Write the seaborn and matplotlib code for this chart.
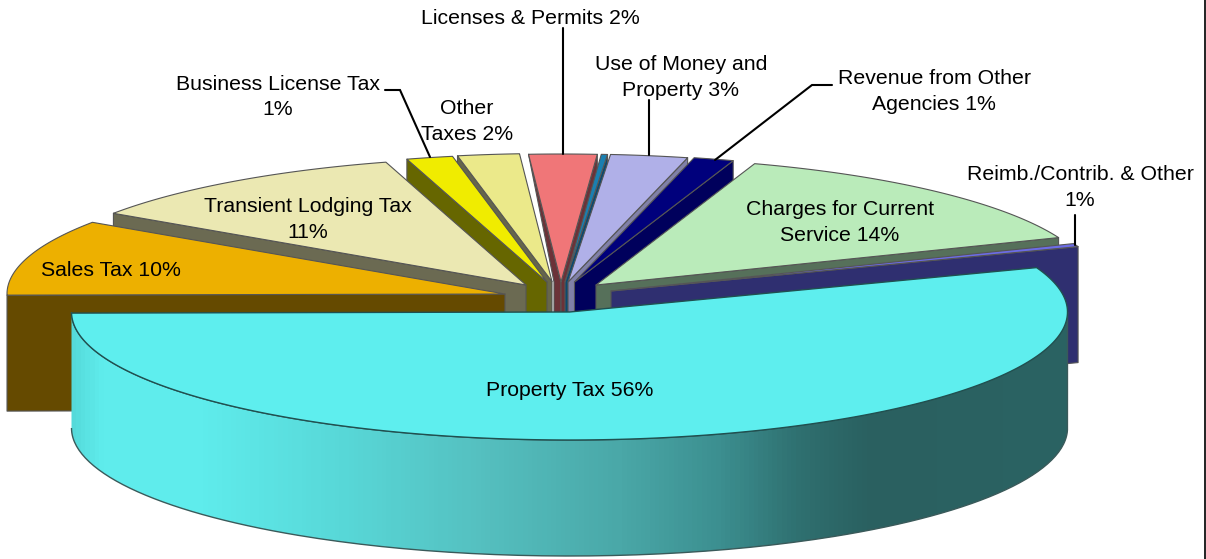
import numpy as np
import pandas as pd
import seaborn as sns
import matplotlib
matplotlib.use("Agg")
import matplotlib.pyplot as plt
from matplotlib.path import Path
from matplotlib.patches import PathPatch
from matplotlib.colors import LinearSegmentedColormap

# ---- data (shares, in percent of the full circle)
names = ["Sales Tax", "Transient Lodging Tax", "Business License Tax", "Other Taxes",
         "Licenses & Permits", "Unlabelled", "Use of Money and Property",
         "Revenue from Other Agencies", "Charges for Current Service",
         "Reimb./Contrib. & Other", "Property Tax"]
shares = [9.6, 11.0, 1.5, 2.0, 2.2, 0.2, 2.5, 1.3, 13.8, 0.4, 55.5]
top_colors = ["#EDB000", "#EBE8B2", "#F0EC00", "#EBE98A", "#F07678", "#1A7FB0",
              "#B0B0E8", "#00007C", "#BAEBBA", "#6C6CE6", "#5EEEEE"]
wall_colors = ["#654A00", "#6B6A52", "#666600", "#66664A", "#6B3238", "#0B4A70",
               "#8080A8", "#00005C", "#56705A", "#2F2F70", "#2B6363"]
apex_x = [505, 526, 547, 552, 561, 565, 568, 574.5, 596, 611, 569.5]
apex_y = [294, 285, 282, 281.5, 282, 282, 282, 282, 285, 291, 312]
wall_taper = [None, None, None, None, 7, None, None, None, None, None, None]

labels = [("Sales Tax 10%", 111, 270), ("Transient Lodging Tax\n11%", 308, 219.5),
          ("Business License Tax\n1%", 278, 97), ("Other\nTaxes 2%", 467, 121.5),
          ("Licenses & Permits 2%", 530, 18), ("Use of Money and\nProperty 3%", 681, 77.5),
          ("Revenue from Other\nAgencies 1%", 934, 91.5), ("Charges for Current\nService 14%", 840, 222.5),
          ("Reimb./Contrib. & Other\n1%", 1080, 187.5), ("Property Tax 56%", 570, 390)]
leaders = [([385, 400, 430], [90, 90, 157]), ([563, 563], [28, 154]), ([649, 649], [100, 155]),
           ([832, 812, 715], [85, 85, 160]), ([1075, 1075], [215, 245])]

gradient_stops = [(70, "#55DADA"), (100, "#5FECEC"), (200, "#5FECEC"), (340, "#58D8D8"),
                  (480, "#55C0C0"), (620, "#4AA8A8"), (720, "#3C8F90"), (800, "#2F7070"),
                  (870, "#2A6060"), (1072, "#2B6363")]

RX, RY, DEPTH = 498, 128, 116
START = 180.5

sns.set_theme(style="white")
plt.rcParams["font.family"] = ["Liberation Sans", "DejaVu Sans"]
palette = sns.color_palette(top_colors)

df = pd.DataFrame({"name": names, "share": shares, "ax": apex_x, "ay": apex_y,
                   "top": top_colors, "wall": wall_colors, "taper": wall_taper})
df["a1"] = START - df["share"].cumsum().shift(fill_value=0) * 3.6
df["a2"] = START - df["share"].cumsum() * 3.6
df["mid"] = (df["a1"] + df["a2"]) / 2
df["order"] = (df["mid"] - 90).abs()

fig = plt.figure(figsize=(12.06, 5.59), dpi=100, facecolor="white")
ax = fig.add_axes([0, 0, 1, 1])
ax.set_xlim(0, 1206)
ax.set_ylim(559, 0)
ax.axis("off")

EDGE = "#555555"


def arc(row, a1, a2, dy=0.0, n=200):
    t = np.radians(np.linspace(a1, a2, n))
    return row.ax + RX * np.cos(t), row.ay - RY * np.sin(t) + dy


def poly(xs, ys, fc, ec=EDGE, z=1, lw=0.8):
    return ax.fill(xs, ys, facecolor=fc, edgecolor=ec, linewidth=lw, zorder=z, joinstyle="round")[0]


z = 1
for row in df.sort_values("order").itertuples():
    is_big = row.name == "Property Tax"
    x1, y1 = arc(row, row.a1, row.a1, n=1)
    x2, y2 = arc(row, row.a2, row.a2, n=1)
    if not is_big:
        if row.a1 > 90:
            if pd.notna(row.taper):
                w = float(row.taper)
                poly([row.ax, x1[0], row.ax - w, row.ax - w, row.ax],
                     [row.ay, y1[0], row.ay, row.ay + DEPTH, row.ay + DEPTH], row.wall, z=z)
            else:
                poly([row.ax, x1[0], x1[0], row.ax],
                     [row.ay, y1[0], y1[0] + DEPTH, row.ay + DEPTH], row.wall, z=z)
        if row.a2 < 90:
            poly([row.ax, x2[0], x2[0], row.ax],
                 [row.ay, y2[0], y2[0] + DEPTH, row.ay + DEPTH], row.wall, z=z)
    z += 1
    if is_big:
        xb, yb = arc(row, 180, 360)
        xs = np.r_[xb, xb[::-1]]
        ys = np.r_[yb, yb[::-1] + DEPTH]
        path = Path(np.c_[xs, ys])
        clip = PathPatch(path, facecolor="none", edgecolor="#3A5A5A", linewidth=1.0, zorder=z + 1)
        ax.add_patch(clip)
        span = 1206.0
        cmap = LinearSegmentedColormap.from_list(
            "side", [(0.0, gradient_stops[0][1])]
            + [(p / span, c) for p, c in gradient_stops]
            + [(1.0, gradient_stops[-1][1])])
        im = ax.imshow(np.linspace(0, 1, 1206)[None, :], cmap=cmap, aspect="auto",
                       extent=(0, 1206, 559, 0), zorder=z, vmin=0, vmax=1)
        im.set_clip_path(clip)
        z += 2
    xa, ya = arc(row, row.a1, row.a2)
    poly(np.r_[row.ax, xa], np.r_[row.ay, ya], row.top,
         ec="#1F5050" if is_big else EDGE, z=z, lw=1.0 if is_big else 0.8)
    z += 1

ax.set_xlim(0, 1206)
ax.set_ylim(559, 0)

for xs, ys in leaders:
    ax.plot(xs, ys, color="black", lw=1.5, zorder=50, solid_joinstyle="miter")
for text, x, y in labels:
    ax.text(x, y, text, ha="center", va="center", fontsize=15.3, color="black",
            linespacing=1.42, zorder=60)

# thin frame line at the right edge of the picture
ax.axvline(1204.5, color="#222222", lw=1.4, zorder=70)

fig.savefig("out.png", dpi=100, facecolor="white")
